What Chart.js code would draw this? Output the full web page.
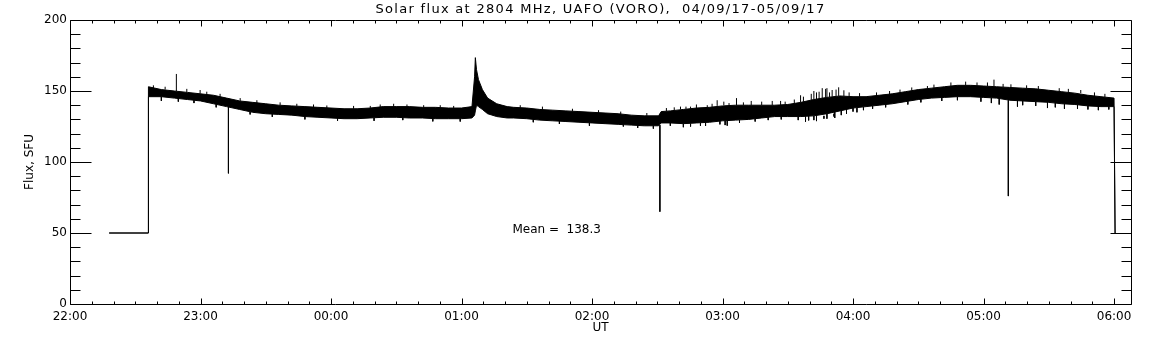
<!DOCTYPE html>
<html lang="en">
<head>
<meta charset="UTF-8" />
<title>Solar flux at 2804 MHz</title>
<style>
  body{margin:0;background:#fff;}
  #fluxChart{display:block;}
</style>
<script src="https://cdn.jsdelivr.net/npm/chart.js@4.4.0/dist/chart.umd.min.js"></script>
</head>
<body>
<canvas id="fluxChart" width="1152" height="345"></canvas>
<script>
// ===== data (x = hours after 22:00 UT) =====
const titleText = 'Solar flux at 2804 MHz, UAFO (VORO),  04/09/17-05/09/17';
const hourLabels = ["22:00","23:00","00:00","01:00","02:00","03:00","04:00","05:00","06:00"];
const yTicks = [0, 50, 100, 150, 200];

// envelope of the noisy record: top and bottom edge of the black band
const times = [0.30,0.60,0.601,0.70,0.80,0.90,1.00,1.10,1.20,1.30,1.40,1.50,1.60,1.70,1.80,1.90,
  2.00,2.10,2.20,2.30,2.40,2.50,2.60,2.70,2.80,2.90,3.00,3.08,3.10,3.106,3.115,3.13,3.16,3.20,3.27,
  3.35,3.40,3.50,3.60,3.70,3.80,3.90,4.00,4.10,4.20,4.30,4.40,4.51,4.53,4.60,4.70,4.80,4.90,5.00,
  5.10,5.20,5.30,5.40,5.50,5.60,5.70,5.80,5.90,6.00,6.10,6.20,6.30,6.40,6.50,6.60,6.70,6.80,6.90,
  7.00,7.10,7.20,7.30,7.40,7.50,7.60,7.70,7.80,7.90,8.00,8.008];
const upper = [50,50,153,151,150,149,148,147,145,143,142,141,140,139.5,139,138.5,
  138,137.5,137.5,138,139,139,139,138.5,138.5,138,138,139,160,173.5,165,158,151,145,141,
  139,138.5,138,137,136.5,136,135.5,135,134.5,134,133,132.5,132.5,135.5,136,137,138,138.5,139.5,
  140,140,140,140,140.5,142,144,145.5,146.5,146,146,147,148,149.5,151,152,153,154,154,
  153.5,153,152.5,152,151.5,150.5,149.5,148.5,147,146,145,50];
const lower = [50,50,146,146,145,144,143,141,139,137,135,134,133.5,133,132,131.5,
  131,130.5,130.5,131,131.5,131.5,131,131,130.5,130.5,130.5,131,133,136,140,139,137,134,132,
  131,131,130.5,129.5,129,128.5,128,127.5,127,126.5,126,125.5,125.5,127.5,127.5,127,127.5,128,129,
  129.5,130,131,132,132,132,132.5,134,136,138,139,140,141,142.5,144,145,145.5,146,146,
  145.5,145,143.5,143,142.5,142,141,140.5,139.5,139,139,50];

// single-sample spikes: time, band edge, spike tip
const spikeTimes = [0.815,1.214,4.52,7.19,
  4.678,4.755,4.755,4.831,4.883,4.959,5.01,5.036,5.107,5.381,5.445,
  5.598,5.636,5.74,5.764,5.777,5.80,5.84,5.854,5.89,6.03,6.57,6.863,7.08,7.21,7.26,7.49,7.745,
  0.639,0.729,0.895,0.997,1.048,1.150,1.304,1.432,1.610,1.738,1.866,1.968,2.173,2.301,2.377,2.48,2.582,2.71,2.837,2.94,
  0.70,0.83,0.95,1.12,1.38,1.55,1.80,2.05,2.33,2.55,2.78,2.99,
  3.45,3.62,3.85,4.05,4.22,4.42,3.55,3.75,3.98,4.24,4.35,4.47,
  4.57,4.63,4.72,4.80,4.92,5.05,5.16,5.22,5.30,5.48,
  4.60,4.70,4.87,4.98,5.02,5.13,5.25,5.35,5.45,
  5.55,5.62,5.68,5.70,5.72,5.79,5.82,5.87,5.93,5.97,6.05,
  5.58,5.66,5.70,5.72,5.80,5.86,5.91,5.95,6.00,6.08,
  6.18,6.28,6.36,6.45,6.62,6.75,6.95,7.03,7.15,7.33,7.42,7.58,7.65,7.85,7.93,
  6.15,6.25,6.42,6.52,6.68,6.80,6.98,7.06,7.12,7.30,7.40,7.55,7.62,7.72,7.80,7.88,7.96];
const spikeFrom = [150,139,126,143.5,
  137,137.5,127,127.5,138.5,139.5,140,129,140,140,140,
  142,132,144,144,132.5,145.5,146,134,146.5,138,152,154,153.5,152.5,143.5,142,148.5,
  152,151,149,148,147.5,146,143,141.5,140,139.3,138.7,138,137.5,138,138.7,139,139,138.5,138.3,138,
  146,145,143.5,140.6,135.4,133.7,132,130.7,131,131.2,130.6,130.5,
  138.2,137,135.7,134.7,133.8,132.5,130,128.7,127.6,126.7,125.8,125.5,
  135.8,136.3,137.2,138,138.7,139.7,140,140,140,140.3,
  127.5,127,127.8,128.8,129,129.6,130.5,131.5,132,
  141,142.4,143.6,144,144.3,145.4,145.8,146.3,146.4,146.2,146,
  132,132.3,132.5,132.7,134,135.2,136.2,137,138,138.8,
  146.8,147.8,148.9,150.3,152.2,153.5,153.8,153.3,152.8,151.9,151.4,149.7,149,146.5,145.7,
  139.5,140.5,142.8,144.2,145.4,146,145.6,145.2,144.8,143,142.5,141.5,141,140.4,139.5,139,139];
const spikeTo = [162,92,65,76,
  139,139,125,125.5,140,143.5,142.5,125.6,145,143,143,
  147,128.4,149.5,152,130.5,152,150.7,132,152.6,135,153.5,156.6,158,154.7,139,138,150.7,
  154,153,151.5,150.7,149.5,148,145,143.5,142,141,140.5,139.8,139.5,139.5,140.5,141,140.5,140,140,139.5,
  143,142.5,141.5,138.5,133.5,131.8,130,129,129,129.5,128.6,128.5,
  140,139,137.5,136.5,135.5,134.5,128,126.8,125.5,125,124,123.5,
  138,138.5,139,140.5,141,141.5,142,143,142.5,142.5,
  125.5,124.5,125.4,126.5,126,127.5,128.5,129.5,130,
  144,146,148,150,149,151.5,149,151,150.5,149,148.5,
  129.5,129.3,129.5,128.8,130.5,131,133,134,135.5,136.5,
  149,150,151,152.5,154.5,156,156,156,155,154,153.5,152,151.5,149,148,
  137.5,138.5,140.5,142,143,143.5,142.5,141.5,140.5,140,139.5,138.5,137.5,137.5,137,136.5,137];

const meanText = "Mean =  138.3";
const meanAt = {x: 3.39, y: 52.5};

// ===== axes geometry (IDL style) =====
const xMin = 0, xMax = 8.13;
const yMin = 0, yMax = 200;

const spikeData = [];
spikeTimes.forEach((t, i) => {
  spikeData.push({x: t, y: spikeFrom[i]}, {x: t, y: spikeTo[i]}, {x: t, y: null});
});

// frame + inward ticks on all four sides, title and the mean label
const idlFrame = {
  id: 'idlFrame',
  afterDraw(chart) {
    const {ctx, chartArea: a, scales: {x, y}} = chart;
    ctx.save();
    ctx.strokeStyle = '#000';
    ctx.lineWidth = 1;
    ctx.beginPath();
    const L = Math.round(a.left) + 0.5, R = Math.round(a.right) + 0.5;
    const T = Math.round(a.top) + 0.5, B = Math.round(a.bottom) + 0.5;
    ctx.rect(L, T, R - L, B - T);
    // y ticks every 10, major every 50
    for (let v = yMin; v <= yMax; v += 10) {
      const py = Math.round(y.getPixelForValue(v)) + 0.5;
      const len = v % 50 === 0 ? 21 : 10;
      ctx.moveTo(L, py); ctx.lineTo(L + len, py);
      ctx.moveTo(R, py); ctx.lineTo(R - len, py);
    }
    // x ticks every 10 min, major every hour
    for (let m = 0; m / 60 <= xMax; m += 10) {
      const px = Math.round(x.getPixelForValue(m / 60)) + 0.5;
      const len = m % 60 === 0 ? 6 : 3;
      ctx.moveTo(px, B); ctx.lineTo(px, B - len);
      ctx.moveTo(px, T); ctx.lineTo(px, T + len);
    }
    ctx.stroke();
    ctx.fillStyle = '#000';
    ctx.font = '12px "DejaVu Sans"';
    ctx.textBaseline = 'middle';
    ctx.fillText(meanText, x.getPixelForValue(meanAt.x), y.getPixelForValue(meanAt.y));
    ctx.font = '13px "DejaVu Sans"';
    ctx.letterSpacing = '1.3px';
    ctx.textAlign = 'center';
    ctx.fillText(titleText, (a.left + a.right) / 2, 10);
    ctx.restore();
  }
};

new Chart(document.getElementById('fluxChart'), {
  type: 'line',
  data: {
    datasets: [
      {label: 'upper', data: times.map((t, i) => ({x: t, y: upper[i]})),
       borderColor: '#000', borderWidth: 1, fill: false},
      {label: 'lower', data: times.map((t, i) => ({x: t, y: lower[i]})),
       borderColor: '#000', borderWidth: 1, fill: '-1', backgroundColor: '#000'},
      {label: 'spikes', data: spikeData, borderColor: '#000', borderWidth: 1,
       spanGaps: false, fill: false}
    ]
  },
  options: {
    responsive: false,
    animation: false,
    devicePixelRatio: 1,
    layout: {padding: {left: 0, right: 21, top: 20, bottom: 0}},
    elements: {point: {radius: 0}, line: {tension: 0}},
    plugins: {
      legend: {display: false},
      tooltip: {enabled: false},
      title: {display: false}
    },
    scales: {
      x: {
        type: 'linear', min: xMin, max: xMax,
        grid: {display: false, drawTicks: false},
        border: {display: false},
        afterFit: s => { s.height = 41; },
        ticks: {
          stepSize: 1, includeBounds: false, autoSkip: false, maxRotation: 0,
          color: '#000', padding: 6,
          font: {family: '"DejaVu Sans"', size: 12},
          callback: v => Number.isInteger(v) ? hourLabels[v] : ''
        },
        title: {display: true, text: 'UT', color: '#000',
          font: {family: '"DejaVu Sans"', size: 12}, padding: {top: 0, bottom: 10}}
      },
      y: {
        min: yMin, max: yMax,
        grid: {display: false, drawTicks: false},
        border: {display: false},
        afterFit: s => { s.width = 70; },
        afterBuildTicks: s => { s.ticks = yTicks.map(v => ({value: v})); },
        ticks: {color: '#000', padding: 3, font: {family: '"DejaVu Sans"', size: 12}},
        title: {display: true, text: 'Flux, SFU', color: '#000',
          font: {family: '"DejaVu Sans"', size: 12}, padding: {top: 23, bottom: 0}}
      }
    }
  },
  plugins: [idlFrame]
});
</script>
</body>
</html>
